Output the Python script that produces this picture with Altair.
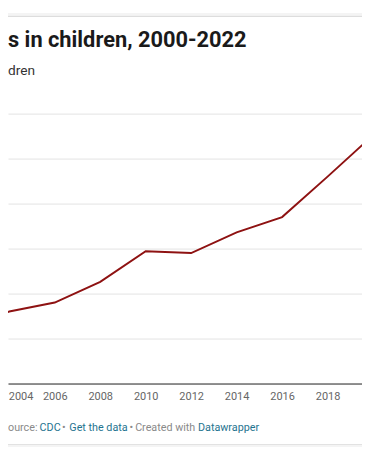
import altair as alt
import pandas as pd

# ---- data (autism prevalence per 1,000 children) ----
years = [2000, 2002, 2004, 2006, 2008, 2010, 2012, 2014, 2016, 2018, 2020, 2022]
rate = [6.7, 6.6, 8.0, 9.0, 11.3, 14.7, 14.5, 16.8, 18.5, 23.0, 27.6, 32.2]
tick_years = [2004, 2006, 2008, 2010, 2012, 2014, 2016, 2018, 2020]
grid_values = [5, 10, 15, 20, 25, 30]
title_text = "s in children, 2000-2022"
subtitle_text = "dren"
source_parts = ["ource:", "CDC", "\u2022", "Get the data", "\u2022", "Created with", "Datawrapper"]

df = pd.DataFrame({"year": years, "rate": rate})

W, H = 362, 379
TOTAL_H = 444
FONT = "Roboto"
GRAY_TEXT = "#8a8a8a"
LINK = "#1f7490"


def one(text):
    return alt.Data(values=[{"t": text}])


base = alt.Chart(df)

line = base.mark_line(color="#8e1212", strokeWidth=2, clip=True).encode(
    x=alt.X(
        "year:Q",
        scale=alt.Scale(domain=[2003.944, 2019.514], nice=False, zero=False),
        axis=alt.Axis(
            values=tick_years, format="d", title=None, grid=False, ticks=False, tickSize=0,
            labelPadding=7, labelFontSize=11.2, labelColor="#666666", labelFont=FONT,
            labelOverlap=False, labelFlush=False, labelBound=False,
            labelAlign=alt.condition("datum.value == 2004", alt.value("left"), alt.value("center")),
            labelOffset=alt.condition("datum.value == 2004", alt.value(-1), alt.value(0)),
            domainColor="#1a1a1a", domainWidth=1,
        ),
    ),
    y=alt.Y(
        "rate:Q",
        scale=alt.Scale(domain=[0, 41.196], nice=False, zero=True),
        axis=alt.Axis(
            values=grid_values, grid=True, gridColor="#e2e2e2", gridWidth=1,
            labels=False, ticks=False, domain=False, title=None,
        ),
    ),
)

top_band = alt.Chart(one("")).mark_rect(color="#f4f4f4").encode(
    x=alt.value(0), x2=alt.value(W), y=alt.value(0), y2=alt.value(3)
)
top_rule = alt.Chart(one("")).mark_rule(color="#d6d6d6", strokeWidth=1).encode(
    x=alt.value(0), x2=alt.value(W), y=alt.value(3.5)
)
bottom_band = alt.Chart(one("")).mark_rect(color="#f4f4f4").encode(
    x=alt.value(0), x2=alt.value(W), y=alt.value(441.5), y2=alt.value(TOTAL_H)
)
bottom_rule = alt.Chart(one("")).mark_rule(color="#d6d6d6", strokeWidth=1).encode(
    x=alt.value(0), x2=alt.value(W), y=alt.value(441.5)
)

title = alt.Chart(one(title_text)).mark_text(
    font=FONT, fontSize=22.3, fontWeight="bold", color="#1a1a1a", align="left", baseline="alphabetic"
).encode(text="t:N", x=alt.value(0), y=alt.value(34.5))

subtitle = alt.Chart(one(subtitle_text)).mark_text(
    font=FONT, fontSize=14, color="#333333", align="left", baseline="alphabetic"
).encode(text="t:N", x=alt.value(0), y=alt.value(63))

src_x = [0, 32.3, 55.3, 62.7, 124.3, 130, 194.3]
src_col = [GRAY_TEXT, LINK, GRAY_TEXT, LINK, GRAY_TEXT, GRAY_TEXT, LINK]
source_layers = [
    alt.Chart(one(t)).mark_text(
        font=FONT, fontSize=11, color=c, align="left", baseline="alphabetic"
    ).encode(text="t:N", x=alt.value(x), y=alt.value(428))
    for t, x, c in zip(source_parts, src_x, src_col)
]

chart = alt.layer(
    top_band, top_rule, line, title, subtitle, bottom_rule, bottom_band, *source_layers
).properties(
    width=W,
    height=H,
    background="white",
    autosize=alt.AutoSizeParams(type="none"),
    padding={"left": 0, "top": 0, "right": 0, "bottom": TOTAL_H - H},
).configure_view(strokeWidth=0, stroke="transparent")

chart.save("out.html", embed_options={"renderer": "svg", "actions": False})
